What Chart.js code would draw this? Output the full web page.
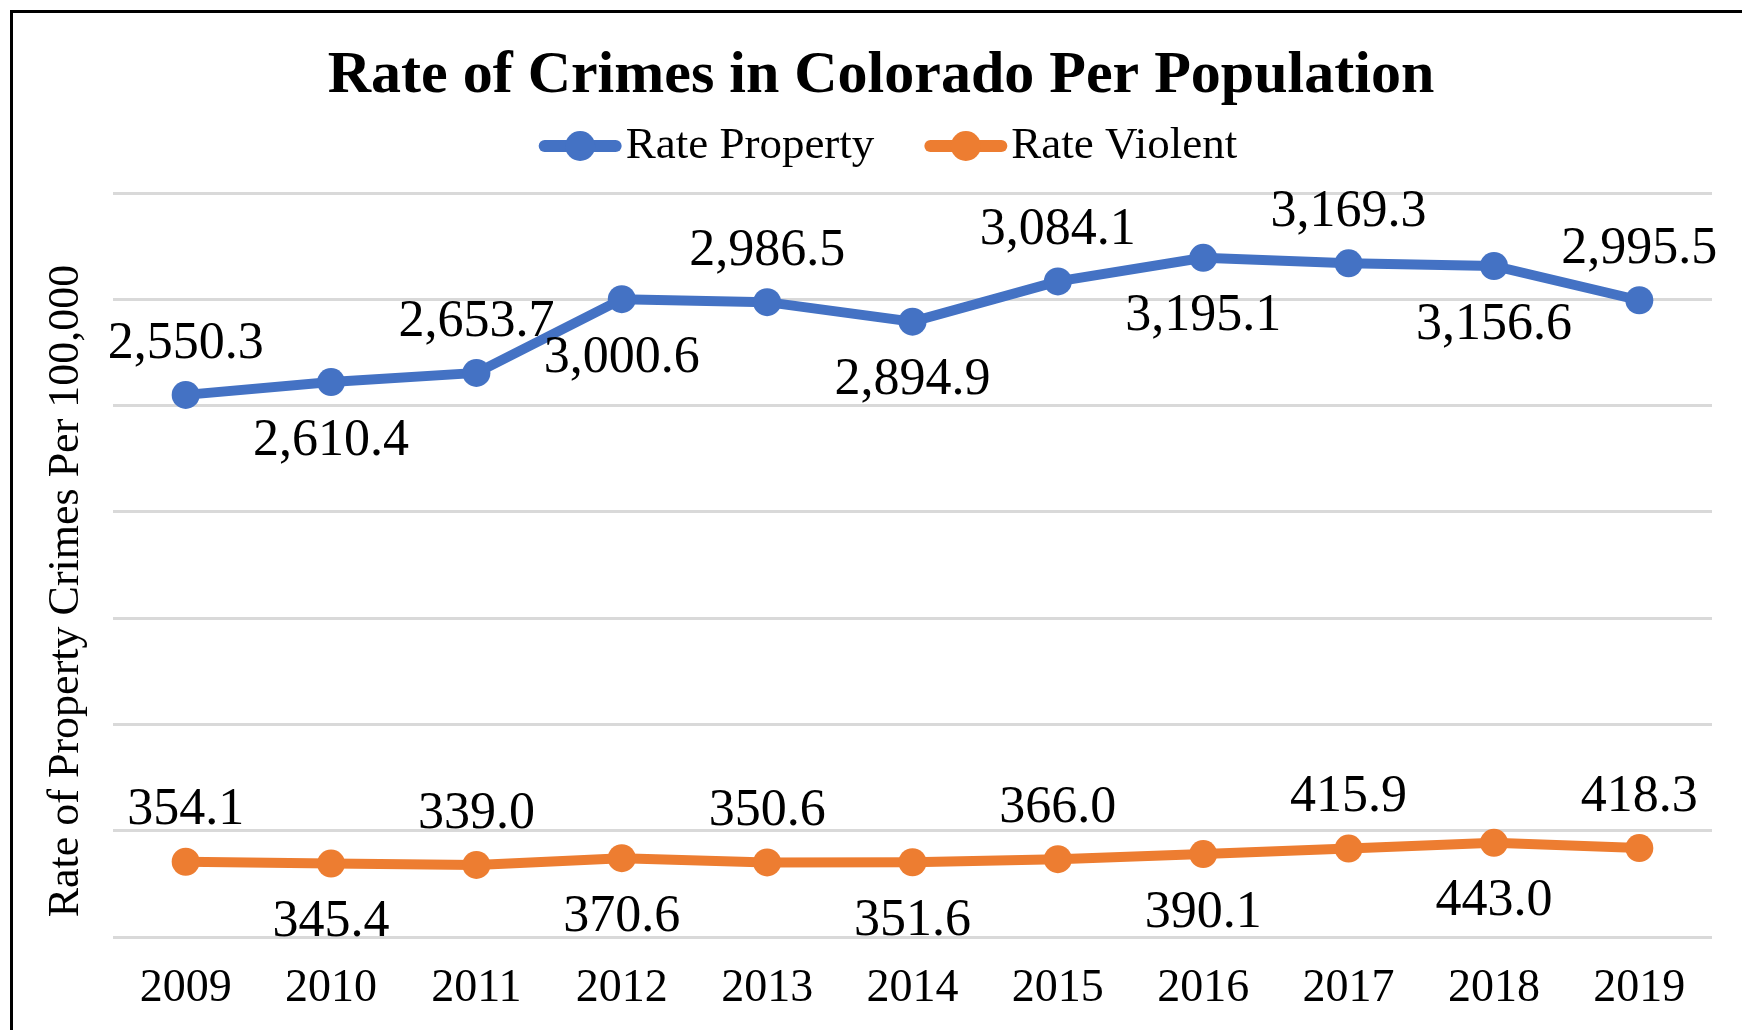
<!DOCTYPE html>
<html>
<head>
<meta charset="utf-8">
<script src="https://cdn.jsdelivr.net/npm/chart.js@4.4.1/dist/chart.umd.min.js"></script>
<style>
  html, body { margin: 0; padding: 0; background: #fff; overflow: hidden; }
  #moldura { position: absolute; left: 10px; top: 10px; width: 2000px; height: 2000px; border: 3px solid #000; }
  #wrap { position: absolute; left: 0; top: 0; width: 1742px; height: 1030px; }
</style>
</head>
<body>
<div id="moldura"></div>
<div id="wrap"><canvas id="grafico" width="1742" height="1030"></canvas></div>
<script>
const anos = ['2009', '2010', '2011', '2012', '2013', '2014', '2015', '2016', '2017', '2018', '2019'];
const rateProperty = [2550.3, 2610.4, 2653.7, 3000.6, 2986.5, 2894.9, 3084.1, 3195.1, 3169.3, 3156.6, 2995.5];
const rateViolent = [354.1, 345.4, 339.0, 370.6, 350.6, 351.6, 366.0, 390.1, 415.9, 443.0, 418.3];
const seriesNames = ['Rate Property', 'Rate Violent'];
const AZUL = '#4472C4';
const LARANJA = '#ED7D31';
const FONTE = '"Liberation Serif", "Times New Roman", serif';

const fmt = v => v.toLocaleString('en-US', { minimumFractionDigits: 1, maximumFractionDigits: 1 });

// value labels, alternating above / below the points
const rotulos = {
    id: 'rotulos',
    afterDatasetsDraw(chart) {
        const ctx = chart.ctx;
        ctx.save();
        ctx.font = '52px ' + FONTE;
        ctx.fillStyle = '#000';
        ctx.textAlign = 'center';
        ctx.textBaseline = 'middle';
        chart.data.datasets.forEach((ds, i) => {
            chart.getDatasetMeta(i).data.forEach((pt, j) => {
                const dy = j % 2 === 0 ? -51 : 59;
                ctx.fillText(fmt(ds.data[j]), pt.x, pt.y + dy);
            });
        });
        ctx.restore();
    }
};

// legend with line + marker, and the rotated y title
const extras = {
    id: 'extras',
    afterDraw(chart) {
        const ctx = chart.ctx;
        ctx.save();
        ctx.font = '45px ' + FONTE;
        ctx.textBaseline = 'middle';
        ctx.fillStyle = '#000';
        const y = 146, linha = 83, gap = 4, espaco = 50;
        const larguras = chart.data.datasets.map(ds => linha + gap + ctx.measureText(ds.label).width);
        const total = larguras.reduce((a, b) => a + b, 0) + espaco;
        let x = 888 - total / 2;
        chart.data.datasets.forEach((ds, i) => {
            ctx.strokeStyle = ds.borderColor;
            ctx.lineWidth = 12;
            ctx.lineCap = 'round';
            ctx.beginPath();
            ctx.moveTo(x + 6, y);
            ctx.lineTo(x + linha - 6, y);
            ctx.stroke();
            ctx.fillStyle = ds.borderColor;
            ctx.beginPath();
            ctx.arc(x + linha / 2, y, 15, 0, Math.PI * 2);
            ctx.fill();
            ctx.fillStyle = '#000';
            ctx.textAlign = 'left';
            ctx.fillText(ds.label, x + linha + gap, y);
            x += larguras[i] + espaco;
        });

        ctx.font = '44px ' + FONTE;
        ctx.translate(66, 591);
        ctx.rotate(-Math.PI / 2);
        ctx.textAlign = 'center';
        ctx.fillText('Rate of Property Crimes Per 100,000', 0, 0);
        ctx.restore();
    }
};

new Chart(document.getElementById('grafico'), {
    type: 'line',
    data: {
        labels: anos,
        datasets: [
            { label: seriesNames[0], data: rateProperty, borderColor: AZUL, backgroundColor: AZUL, borderWidth: 10, pointRadius: 14, pointBackgroundColor: AZUL, pointBorderWidth: 0, tension: 0 },
            { label: seriesNames[1], data: rateViolent, borderColor: LARANJA, backgroundColor: LARANJA, borderWidth: 10, pointRadius: 14, pointBackgroundColor: LARANJA, pointBorderWidth: 0, tension: 0 }
        ]
    },
    options: {
        responsive: false,
        animation: false,
        layout: { padding: { left: 50, right: 30, top: 0, bottom: 0 } },
        plugins: {
            legend: { display: false },
            tooltip: { enabled: false },
            title: {
                display: true,
                text: 'Rate of Crimes in Colorado Per Population',
                color: '#000',
                font: { family: FONTE, size: 60, weight: 'bold', lineHeight: 1.2 },
                padding: { top: 40, bottom: 81 }
            }
        },
        scales: {
            x: {
                offset: true,
                grid: { display: false, drawTicks: false },
                border: { display: false },
                ticks: { color: '#000', padding: 24, font: { family: FONTE, size: 46 } },
                afterFit: s => { s.height = 93; }
            },
            y: {
                min: 0,
                max: 3500,
                ticks: { stepSize: 500, display: false },
                grid: { color: '#D9D9D9', lineWidth: 3, drawTicks: false },
                border: { display: false },
                afterFit: s => { s.width = 63; }
            }
        }
    },
    plugins: [rotulos, extras]
});
</script>
</body>
</html>
